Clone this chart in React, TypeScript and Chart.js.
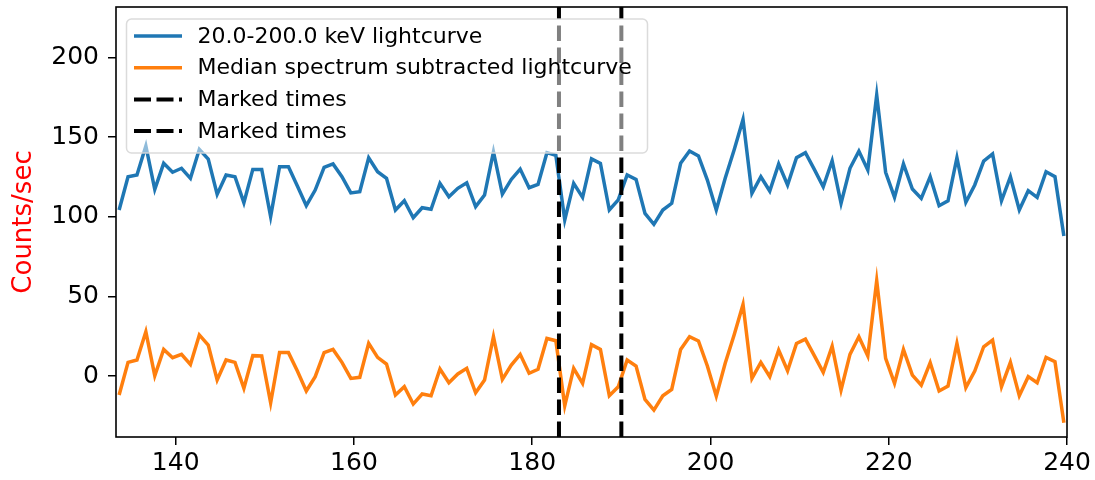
import React, { useEffect, useRef } from "react";
import { Chart, registerables } from "chart.js";

Chart.register(...registerables);

const times = [
  133.65, 134.65, 135.65, 136.65, 137.65, 138.65, 139.65, 140.65, 141.65, 142.65,
  143.65, 144.65, 145.65, 146.65, 147.65, 148.65, 149.65, 150.65, 151.65, 152.65,
  153.65, 154.65, 155.65, 156.65, 157.65, 158.65, 159.65, 160.65, 161.65, 162.65,
  163.65, 164.65, 165.65, 166.65, 167.65, 168.65, 169.65, 170.65, 171.65, 172.65,
  173.65, 174.65, 175.65, 176.65, 177.65, 178.65, 179.65, 180.65, 181.65, 182.65,
  183.65, 184.65, 185.65, 186.65, 187.65, 188.65, 189.65, 190.65, 191.65, 192.65,
  193.65, 194.65, 195.65, 196.65, 197.65, 198.65, 199.65, 200.65, 201.65, 202.65,
  203.65, 204.65, 205.65, 206.65, 207.65, 208.65, 209.65, 210.65, 211.65, 212.65,
  213.65, 214.65, 215.65, 216.65, 217.65, 218.65, 219.65, 220.65, 221.65, 222.65,
  223.65, 224.65, 225.65, 226.65, 227.65, 228.65, 229.65, 230.65, 231.65, 232.65,
  233.65, 234.65, 235.65, 236.65, 237.65, 238.65, 239.65,
];

const lightcurve = [
  104.3, 125.2, 126.3, 144.5, 117.3, 133.6, 128, 130.5, 124.2, 142.4,
  136.3, 114.1, 126.3, 125.2, 108.9, 129.8, 129.8, 100.1, 131.5, 131.5,
  119.3, 107, 116.8, 131.1, 133.2, 125.2, 115, 115.8, 137.1, 128.3,
  124.2, 104.3, 110.1, 99.4, 105.7, 104.7, 121, 112.6, 117.9, 121.4,
  106.4, 113.7, 140.9, 114.3, 123.5, 130, 118.3, 120.4, 140.3, 138.6,
  98, 121, 112.2, 136.4, 133.6, 104.3, 110.6, 126.3, 123.5, 102.2,
  95.3, 104.3, 108.5, 133.6, 141.3, 138.2, 123.1, 104.3, 124.2, 142,
  161.2, 114.8, 125.2, 116.2, 133.2, 120, 137.1, 140.3, 129.8, 118.9,
  135.2, 108.5, 130.5, 141.3, 129.4, 176.5, 128, 112.2, 133.2, 117.5,
  111.6, 125.2, 107, 110.1, 137.1, 109.1, 120, 135, 139.5, 110.1,
  125.2, 104.3, 116.4, 112.2, 128.3, 125.2, 87.9,
];

const subtracted = [
  -11.9, 8.6, 10.1, 27.8, 0.2, 16.7, 11.5, 13.6, 7.3, 25.8,
  19.5, -2.5, 10.1, 8.6, -7.7, 12.8, 12.6, -16.8, 14.7, 14.7,
  3.1, -9.4, -0.4, 14.7, 16.7, 8.6, -1.5, -0.8, 20.5, 11.7,
  7.5, -11.9, -6.7, -17.6, -11.3, -12.4, 4.4, -4.2, 1.3, 4.8,
  -10.5, -2.5, 24.7, -2.1, 6.9, 13.6, 1.7, 4.2, 23.6, 22.2,
  -18.7, 4.8, -4.6, 19.7, 16.7, -12.4, -6.7, 10.1, 6.3, -14.7,
  -21.4, -12.4, -8.4, 16.7, 24.7, 22, 6.3, -12.6, 8, 25.8,
  45, -1.5, 8.6, -0.4, 16.3, 3.3, 20.5, 23.2, 12.8, 2.3,
  18.8, -8.8, 13.6, 24.7, 12.6, 59.9, 11.1, -4.6, 16.7, 0.6,
  -5.7, 8.4, -9.4, -6.3, 20.5, -7.3, 3.1, 18.4, 22.6, -6.7,
  8.6, -12.4, -0.4, -4.2, 11.7, 9, -29.3,
];

const markedTimes = [183, 190];

const legendLabels = [
  "20.0-200.0 keV lightcurve",
  "Median spectrum subtracted lightcurve",
  "Marked times",
  "Marked times",
];

const BLUE = "#1f77b4";
const ORANGE = "#ff7f0e";
const FONT = "'DejaVu Sans', 'Liberation Sans', sans-serif";

const overlayPlugin = {
  id: "overlay",
  afterDatasetsDraw(chart: any) {
    const { ctx, chartArea, scales } = chart;
    const xs = scales.x;
    ctx.save();
    ctx.beginPath();
    ctx.rect(chartArea.left, chartArea.top, chartArea.right - chartArea.left, chartArea.bottom - chartArea.top);
    ctx.clip();
    ctx.strokeStyle = "#000";
    ctx.lineWidth = 4;
    ctx.setLineDash([15.5, 6.5]);
    for (const t of markedTimes) {
      const px = xs.getPixelForValue(t);
      ctx.beginPath();
      ctx.moveTo(px, chartArea.bottom);
      ctx.lineTo(px, chartArea.top);
      ctx.stroke();
    }
    ctx.restore();

    // frame
    ctx.save();
    ctx.strokeStyle = "#000";
    ctx.lineWidth = 1.6;
    ctx.setLineDash([]);
    ctx.strokeRect(chartArea.left, chartArea.top, chartArea.right - chartArea.left, chartArea.bottom - chartArea.top);
    ctx.restore();

    // legend
    ctx.save();
    const bx = chartArea.left + 10.5;
    const by = chartArea.top + 12;
    const bw = 521;
    const bh = 134;
    const r = 5;
    ctx.beginPath();
    ctx.moveTo(bx + r, by);
    ctx.lineTo(bx + bw - r, by);
    ctx.arcTo(bx + bw, by, bx + bw, by + r, r);
    ctx.lineTo(bx + bw, by + bh - r);
    ctx.arcTo(bx + bw, by + bh, bx + bw - r, by + bh, r);
    ctx.lineTo(bx + r, by + bh);
    ctx.arcTo(bx, by + bh, bx, by + bh - r, r);
    ctx.lineTo(bx, by + r);
    ctx.arcTo(bx, by, bx + r, by, r);
    ctx.closePath();
    ctx.fillStyle = "rgba(255,255,255,0.5)";
    ctx.fill();
    ctx.strokeStyle = "rgba(215,215,215,0.9)";
    ctx.lineWidth = 1.5;
    ctx.stroke();

    const colors = [BLUE, ORANGE, "#000", "#000"];
    const dashed = [false, false, true, true];
    const rowY0 = by + 17;
    const rowH = 31.7;
    ctx.font = `22px ${FONT}`;
    ctx.textBaseline = "middle";
    ctx.textAlign = "left";
    for (let i = 0; i < legendLabels.length; i++) {
      const y = rowY0 + i * rowH;
      ctx.beginPath();
      ctx.strokeStyle = colors[i];
      ctx.lineWidth = dashed[i] ? 4 : 3.5;
      ctx.setLineDash(dashed[i] ? [17, 5.5] : []);
      ctx.moveTo(bx + 7.5, y);
      ctx.lineTo(bx + 55.5, y);
      ctx.stroke();
      ctx.fillStyle = "#000";
      ctx.fillText(legendLabels[i], bx + 71, y + 1);
    }
    ctx.restore();
  },
};

export default function App() {
  const canvasRef = useRef<HTMLCanvasElement | null>(null);

  useEffect(() => {
    const canvas = canvasRef.current;
    if (!canvas) return;
    const chart = new Chart(canvas, {
      type: "line",
      data: {
        datasets: [
          {
            label: legendLabels[0],
            data: times.map((t, i) => ({ x: t, y: lightcurve[i] })),
            borderColor: BLUE,
            borderWidth: 3.5,
            pointRadius: 0,
            tension: 0,
            fill: false,
          },
          {
            label: legendLabels[1],
            data: times.map((t, i) => ({ x: t, y: subtracted[i] })),
            borderColor: ORANGE,
            borderWidth: 3.5,
            pointRadius: 0,
            tension: 0,
            fill: false,
          },
        ],
      },
      options: {
        animation: false,
        responsive: false,
        devicePixelRatio: 1,
        layout: { padding: { top: 7, right: 28, left: 0, bottom: 0 } },
        plugins: {
          legend: { display: false },
          tooltip: { enabled: false },
        },
        scales: {
          x: {
            type: "linear",
            min: 133.3,
            max: 240,
            border: { display: false },
            grid: {
              display: true,
              drawOnChartArea: false,
              drawTicks: true,
              tickLength: 8,
              color: "#000",
              lineWidth: 1.5,
            },
            ticks: {
              stepSize: 20,
              includeBounds: false,
              color: "#000",
              padding: 3,
              maxRotation: 0,
              font: { family: FONT, size: 25 },
            },
            afterFit(scale: any) {
              scale.height = 43;
              scale.paddingLeft = 0;
              scale.paddingRight = 0;
            },
          },
          y: {
            type: "linear",
            min: -38.3,
            max: 231.8,
            border: { display: false },
            grid: {
              display: true,
              drawOnChartArea: false,
              drawTicks: true,
              tickLength: 8,
              color: "#000",
              lineWidth: 1.5,
            },
            ticks: {
              stepSize: 50,
              includeBounds: false,
              color: "#000",
              padding: 9,
              font: { family: FONT, size: 25 },
            },
            title: {
              display: true,
              text: "Counts/sec",
              color: "#ff0000",
              padding: { top: 9, bottom: 0 },
              font: { family: FONT, size: 26 },
            },
            afterFit(scale: any) {
              scale.width = 116;
              scale.paddingTop = 0;
              scale.paddingBottom = 0;
            },
          },
        },
      },
      plugins: [overlayPlugin],
    });
    return () => chart.destroy();
  }, []);

  return (
    <div style={{ position: "fixed", left: 0, top: 0, width: 1095, height: 480, background: "#fff" }}>
      <canvas ref={canvasRef} width={1095} height={480} style={{ width: 1095, height: 480, display: "block" }} />
    </div>
  );
}
